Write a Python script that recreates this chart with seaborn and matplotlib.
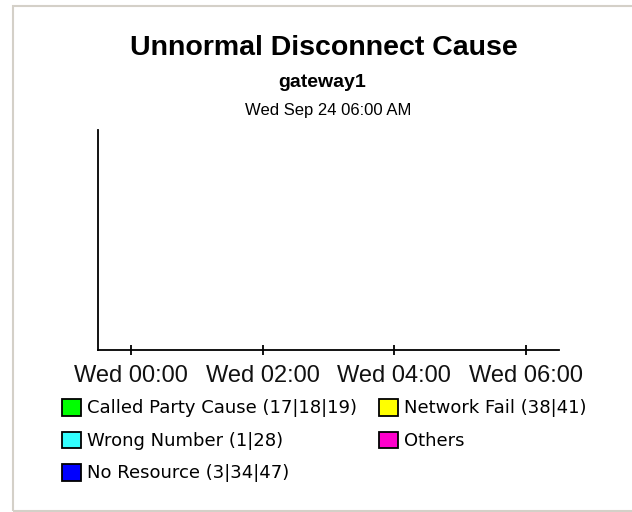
import datetime as dt
import pandas as pd
import matplotlib
matplotlib.use('Agg')
import matplotlib.pyplot as plt
import matplotlib.dates as mdates
from matplotlib.patches import Patch, Rectangle
import seaborn as sns

# chart text
title = 'Unnormal Disconnect Cause'
subtitle = 'gateway1'
report_time = 'Wed Sep 24 06:00 AM'

# legend categories and their colours
causes = ['Called Party Cause (17|18|19)', 'Wrong Number (1|28)', 'No Resource (3|34|47)',
          'Network Fail (38|41)', 'Others']
cause_colors = ['#00ff00', '#33ffff', '#0000ff', '#ffff00', '#ff00cc']

# the report window has no samples at all
sample_times = []
sample_counts = []
sample_causes = []

x_start = dt.datetime(2008, 9, 23, 23, 30)
x_end = dt.datetime(2008, 9, 24, 6, 30)
tick_hours = [0, 2, 4, 6]

df = pd.DataFrame({'time': pd.to_datetime(pd.Series(sample_times, dtype='object')),
                   'count': pd.Series(sample_counts, dtype=float),
                   'cause': pd.Series(sample_causes, dtype=str)})

sns.set_theme(style='white')
plt.rcParams['font.family'] = ['Liberation Sans', 'DejaVu Sans']
plt.rcParams['text.color'] = 'black'

fig = plt.figure(figsize=(6.32, 5.12), dpi=100)
ax = fig.add_axes([98 / 632, 1 - 350 / 512, 461 / 632, 220 / 512])

if len(df):
    sns.lineplot(data=df, x='time', y='count', hue='cause', hue_order=causes,
                 palette=cause_colors, legend=False, ax=ax)

ax.set_xlim(x_start, x_end)
ax.set_ylim(0, 1)
ax.xaxis.set_major_locator(mdates.HourLocator(byhour=tick_hours))
ax.xaxis.set_major_formatter(mdates.DateFormatter('%a %H:%M'))
ax.set_yticks([])
ax.set_xlabel('')
ax.set_ylabel('')
sns.despine(ax=ax)
for side in ['left', 'bottom']:
    ax.spines[side].set_color('black')
    ax.spines[side].set_linewidth(1.3)
ax.tick_params(axis='x', direction='inout', length=7, width=1.3, color='black',
               labelsize=17, pad=7.5, labelcolor='#111111', bottom=True)

# titles
fig.text(0.513, 1 - 55 / 512, title, ha='center', va='baseline', fontsize=20.5, fontweight='bold')
fig.text(0.510, 1 - 87 / 512, subtitle, ha='center', va='baseline', fontsize=14, fontweight='bold')
fig.text(0.520, 1 - 115 / 512, report_time, ha='center', va='baseline', fontsize=12)

# legend
handles = [Patch(facecolor=c, edgecolor='black', linewidth=1.3) for c in cause_colors]
fig.legend(handles, causes, loc='upper left', bbox_to_anchor=(62 / 632, 1 - 399 / 512),
           ncol=2, frameon=False, borderpad=0, borderaxespad=0,
           prop={'family': 'DejaVu Sans', 'size': 13}, labelcolor='black',
           handlelength=1.03, handleheight=1.03, handletextpad=0.33,
           labelspacing=0.78, columnspacing=1.27)

# thin grey frame around the report panel
fig.patches.append(Rectangle((13 / 632, 1 / 512), 1.0, 1 - 7 / 512, transform=fig.transFigure,
                             fill=False, edgecolor='#d4d0c8', linewidth=1.5))

fig.savefig('out.png', dpi=100)
